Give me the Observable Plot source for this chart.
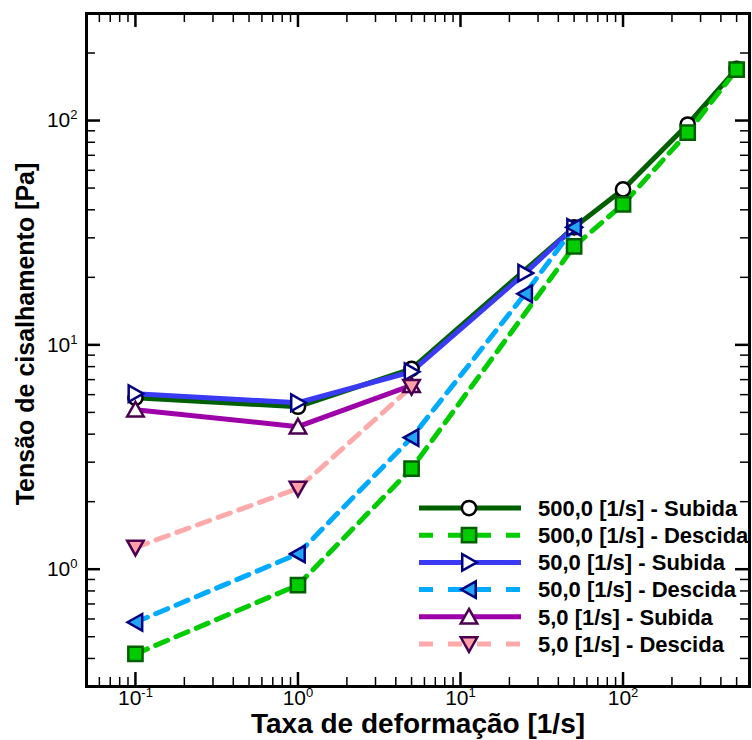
<!DOCTYPE html>
<html><head><meta charset="utf-8">
<script src="https://cdn.jsdelivr.net/npm/d3@7"></script>
<script src="https://cdn.jsdelivr.net/npm/@observablehq/plot@0.6"></script>
<style>body{margin:0;background:#fff;overflow:hidden} svg{display:block}</style>
</head><body><div id="chart"></div>
<script>
// ---- data ----
const rates500 = [0.1, 1, 5, 50, 100, 250, 500];
const sub500   = [5.81, 5.30, 7.82, 33.4, 49.3, 96, 170];
const desc500  = [0.419, 0.85, 2.81, 27.5, 42.3, 88.4, 168.5];
const rates50  = [0.1, 1, 5, 25, 50];
const sub50    = [6.06, 5.52, 7.59, 20.9, 33.4];
const desc50   = [0.58, 1.17, 3.86, 16.9, 33.4];
const rates5   = [0.1, 1, 5];
const sub5     = [5.14, 4.32, 6.6];
const desc5    = [1.25, 2.29, 6.5];
const seriesNames = [
  "500,0 [1/s] - Subida", "500,0 [1/s] - Descida",
  "50,0 [1/s] - Subida", "50,0 [1/s] - Descida",
  "5,0 [1/s] - Subida", "5,0 [1/s] - Descida"
];
const xMajor = [0.1, 1, 10, 100];
const xTickLabels = ["10^-1", "10^0", "10^1", "10^2"];
const yMajor = [1, 10, 100];
const yTickLabels = ["10^0", "10^1", "10^2"];
const xTitle = "Taxa de deformação [1/s]";
const yTitle = "Tensão de cisalhamento [Pa]";

// ---- symbols ----
function makeSymbol(kind) {
  return {draw(ctx, size) {
    const s = Math.sqrt(size / Math.PI);
    if (kind === "circle") { const r = s * 0.95; ctx.moveTo(r, 0); ctx.arc(0, 0, r, 0, 2 * Math.PI); return; }
    if (kind === "square") { const h = s * 0.95; ctx.moveTo(-h, -h); ctx.lineTo(h, -h); ctx.lineTo(h, h); ctx.lineTo(-h, h); ctx.closePath(); return; }
    let pts = [[0, -1.05], [1.1, 0.9], [-1.1, 0.9]];
    if (kind === "right") pts = pts.map(([x, y]) => [-y, x]);
    if (kind === "left") pts = pts.map(([x, y]) => [y, -x]);
    if (kind === "down") pts = pts.map(([x, y]) => [x, -y]);
    ctx.moveTo(pts[0][0] * s, pts[0][1] * s);
    ctx.lineTo(pts[1][0] * s, pts[1][1] * s);
    ctx.lineTo(pts[2][0] * s, pts[2][1] * s);
    ctx.closePath();
  }};
}

const series = [
  {name: seriesNames[0], xs: rates500, ys: sub500,  line: "#006000", dash: false, sym: "circle", fill: "#ffffff", mstroke: "#000000"},
  {name: seriesNames[1], xs: rates500, ys: desc500, line: "#00cc00", dash: true,  sym: "square", fill: "#00cc00", mstroke: "#006000"},
  {name: seriesNames[2], xs: rates50,  ys: sub50,   line: "#3a3af5", dash: false, sym: "right",  fill: "#ffffff", mstroke: "#000080"},
  {name: seriesNames[3], xs: rates50,  ys: desc50,  line: "#00aaff", dash: true,  sym: "left",   fill: "#22a6f2", mstroke: "#000080"},
  {name: seriesNames[4], xs: rates5,   ys: sub5,    line: "#9d00a8", dash: false, sym: "up",     fill: "#ffffff", mstroke: "#4a0050"},
  {name: seriesNames[5], xs: rates5,   ys: desc5,   line: "#ffaaaa", dash: true,  sym: "down",   fill: "#ffa0a8", mstroke: "#4a0050"}
];
series.forEach(s => { s.data = s.xs.map((x, i) => ({x, y: s.ys[i]})); s.symbol = makeSymbol(s.sym); });

// ---- minor ticks ----
const xDomain = [0.05, 600], yDomain = [0.3, 300];
function minorTicks([lo, hi]) {
  const out = [];
  for (let e = -3; e <= 4; e++) for (let m = 2; m <= 9; m++) { const v = m * Math.pow(10, e); if (v >= lo * 1.0001 && v <= hi * 0.9999) out.push(v); }
  return out;
}
const xMinor = minorTicks(xDomain), yMinor = minorTicks(yDomain);

const W = 752, H = 740, mt = 13, mb = 54, ml = 86, mr = 3;
const fw = W - ml - mr, fh = H - mt - mb;
const majLen = 14, minLen = 9;
const DASH = "13,9";

const marks = [];
series.forEach(s => marks.push(Plot.line(s.data, {x: "x", y: "y", stroke: s.line, strokeWidth: 5, strokeDasharray: s.dash ? DASH : undefined})));
series.forEach(s => marks.push(Plot.dot(s.data, {x: "x", y: "y", r: 7.5, symbol: s.symbol, fill: s.fill, stroke: s.mstroke, strokeWidth: 2.5})));
// inward ticks on all four sides
marks.push(
  Plot.tickX(xMajor, {x: d => d, insetTop: fh - majLen, strokeWidth: 2.5, stroke: "black"}),
  Plot.tickX(xMajor, {x: d => d, insetBottom: fh - majLen, strokeWidth: 2.5, stroke: "black"}),
  Plot.tickX(xMinor, {x: d => d, insetTop: fh - minLen, strokeWidth: 1.5, stroke: "black"}),
  Plot.tickX(xMinor, {x: d => d, insetBottom: fh - minLen, strokeWidth: 1.5, stroke: "black"}),
  Plot.tickY(yMajor, {y: d => d, insetRight: fw - majLen, strokeWidth: 2.5, stroke: "black"}),
  Plot.tickY(yMajor, {y: d => d, insetLeft: fw - majLen, strokeWidth: 2.5, stroke: "black"}),
  Plot.tickY(yMinor, {y: d => d, insetRight: fw - minLen, strokeWidth: 1.5, stroke: "black"}),
  Plot.tickY(yMinor, {y: d => d, insetLeft: fw - minLen, strokeWidth: 1.5, stroke: "black"}),
  Plot.frame({stroke: "black", strokeWidth: 3}),
  Plot.text(xMajor, {x: d => d, text: (d, i) => xTickLabels[i], frameAnchor: "bottom", textAnchor: "middle", dy: 18, fontSize: 21, fill: "black"}),
  Plot.text(yMajor, {y: d => d, text: (d, i) => yTickLabels[i], frameAnchor: "left", textAnchor: "end", dx: -9, fontSize: 21, fill: "black"}),
  Plot.text([xTitle], {text: d => d, frameAnchor: "bottom", textAnchor: "middle", dy: 46, fontSize: 28, fontWeight: "bold", fill: "black"}),
  Plot.text([yTitle], {text: d => d, frameAnchor: "left", textAnchor: "middle", rotate: -90, dx: -61, dy: -16, fontSize: 25, fontWeight: "bold", fill: "black"})
);

const svg = Plot.plot({
  width: W, height: H, marginTop: mt, marginBottom: mb, marginLeft: ml, marginRight: mr,
  x: {type: "log", domain: xDomain, axis: null},
  y: {type: "log", domain: yDomain, axis: null},
  style: {fontFamily: "'Liberation Sans', Arial, sans-serif", background: "white", color: "black"},
  marks
});

// superscript exponents in tick labels
d3.select(svg).selectAll("text").each(function () {
  const txt = this.textContent;
  if (!/^10\^/.test(txt)) return;
  const [b, e] = txt.split("^");
  this.textContent = "";
  const t = d3.select(this);
  t.append("tspan").text(b);
  t.append("tspan").attr("dy", -8).style("font-size", "13px").text(e);
});

// legend inside the plot (lower right)
const lg = d3.select(svg).append("g").attr("class", "legend");
const lx0 = 419, lx1 = 521, lmx = 469, ltx = 538, ly0 = 508, ldy = 27.2;
series.forEach((s, i) => {
  const y = ly0 + i * ldy;
  lg.append("line").attr("x1", lx0).attr("x2", lx1).attr("y1", y).attr("y2", y)
    .attr("stroke", s.line).attr("stroke-width", 5).attr("stroke-dasharray", s.dash ? "14,15" : null);
  lg.append("path").attr("transform", `translate(${lmx},${y})`)
    .attr("d", d3.symbol(s.symbol, 7.5 * 7.5 * Math.PI)())
    .attr("fill", s.fill).attr("stroke", s.mstroke).attr("stroke-width", 2.5);
  lg.append("text").attr("x", ltx).attr("y", y).attr("dy", "0.35em")
    .style("font-size", "22px").style("font-weight", "bold").style("text-anchor", "start")
    .attr("fill", "black")
    .text(s.name);
});

document.getElementById("chart").appendChild(svg);
</script>
</body></html>
